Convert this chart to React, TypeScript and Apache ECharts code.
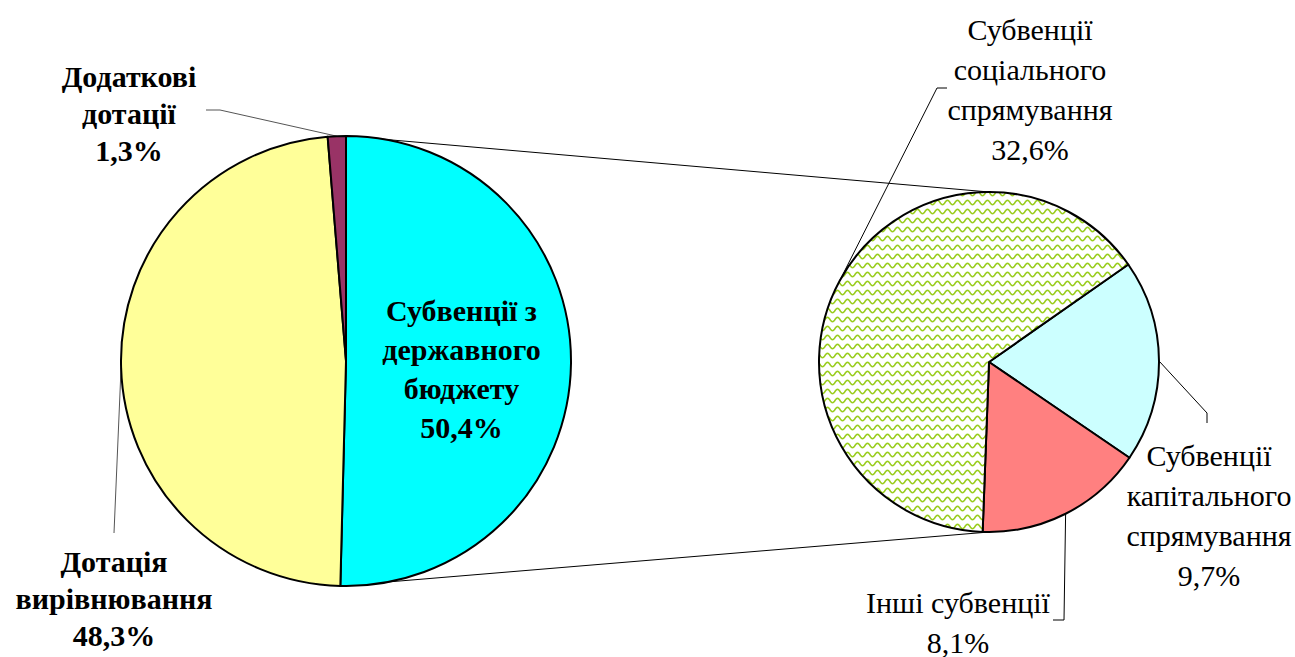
import React, { useEffect, useRef } from 'react';
import * as echarts from 'echarts';

// Main pie (left)
const mainCategories = ['Субвенції з\nдержавного\nбюджету', 'Дотація\nвирівнювання', 'Додаткові\nдотації'];
const mainValues = [50.4, 48.3, 1.3];
const mainColors = ['#00ffff', '#ffff99', '#993366'];

// Secondary pie (right) – breakdown of "Субвенції з державного бюджету"
const subCategories = ['Субвенції\nкапітального\nспрямування', 'Інші субвенції', 'Субвенції\nсоціального\nспрямування'];
const subValues = [9.7, 8.1, 32.6];

const W = 1295;
const H = 657;
const LC = [346, 361];
const LR = 225;
const RC = [989, 362];
const RR = 170;
const RIGHT_START = 35;
const FONT = '"Liberation Serif", "Times New Roman", serif';

function fmt(v: number) {
  return v.toFixed(1).replace('.', ',') + '%';
}

function makeWave() {
  const c = document.createElement('canvas');
  const tw = 10;
  const th = 9;
  c.width = tw;
  c.height = th;
  const ctx = c.getContext('2d')!;
  ctx.fillStyle = '#ffffff';
  ctx.fillRect(0, 0, tw, th);
  ctx.strokeStyle = '#9acd1e';
  ctx.lineWidth = 1.6;
  ctx.beginPath();
  let first = true;
  for (let x = -1; x <= tw + 1; x += 0.5) {
    const y = th / 2 + 2.2 * Math.sin((2 * Math.PI * x) / tw);
    if (first) {
      ctx.moveTo(x, y);
      first = false;
    } else ctx.lineTo(x, y);
  }
  ctx.stroke();
  return c;
}

export default function App() {
  const ref = useRef<HTMLDivElement>(null);
  useEffect(() => {
    if (!ref.current) return;
    const chart = echarts.init(ref.current, null, { renderer: 'svg' });
    const wave = makeWave();
    const subColors: any[] = [
      '#ccffff',
      '#ff8080',
      { image: wave, repeat: 'repeat', imageWidth: 10, imageHeight: 9 },
    ];

    const total = mainValues.reduce((a, b) => a + b, 0);
    const endAngle = 90 - (360 * mainValues[0]) / total;
    const rad = (a: number) => (a * Math.PI) / 180;
    const lTop = [LC[0] + LR * Math.cos(rad(90)), LC[1] - LR * Math.sin(rad(90))];
    const lBot = [LC[0] + LR * Math.cos(rad(endAngle)), LC[1] - LR * Math.sin(rad(endAngle))];
    const rTop = [RC[0], RC[1] - RR];
    const rBot = [RC[0], RC[1] + RR];

    const boldLabel = {
      fontFamily: FONT,
      fontWeight: 'bold',
      fontSize: 30,
      lineHeight: 37,
      color: '#000',
      align: 'center',
    };
    const plainLabel = {
      fontFamily: FONT,
      fontWeight: 'normal',
      fontSize: 30,
      lineHeight: 40,
      color: '#000',
      align: 'center',
    };

    chart.setOption({
      animation: false,
      backgroundColor: '#ffffff',
      graphic: [
        {
          type: 'line',
          z: 0,
          shape: { x1: lTop[0], y1: lTop[1], x2: rTop[0], y2: rTop[1] },
          style: { stroke: '#000', lineWidth: 1 },
        },
        {
          type: 'line',
          z: 0,
          shape: { x1: lBot[0], y1: lBot[1], x2: rBot[0], y2: rBot[1] },
          style: { stroke: '#000', lineWidth: 1 },
        },
      ],
      series: [
        {
          type: 'pie',
          z: 3,
          center: LC,
          radius: LR,
          startAngle: 90,
          clockwise: true,
          avoidLabelOverlap: false,
          emphasis: { disabled: true },
          itemStyle: { borderColor: '#000', borderWidth: 2 },
          label: {
            ...boldLabel,
            position: 'outside',
            formatter: (p: any) => `${p.name}\n${fmt(p.value)}`,
          },
          labelLine: { show: true, length: 10, length2: 10, lineStyle: { color: '#555', width: 1 } },
          labelLayout: (p: any) => {
            const e = p.labelLinePoints ? p.labelLinePoints[0] : null;
            if (p.dataIndex === 0) return { dy: 7 };
            if (p.dataIndex === 1 && e)
              return {
                x: 114,
                y: 598,
                align: 'center',
                verticalAlign: 'middle',
                labelLinePoints: [e, [114, 533], [114, 533]],
              };
            if (p.dataIndex === 2 && e)
              return {
                x: 129,
                y: 113,
                align: 'center',
                verticalAlign: 'middle',
                labelLinePoints: [e, [220, 110], [206, 110]],
              };
            return {};
          },
          data: mainCategories.map((name, i) => ({
            name,
            value: mainValues[i],
            itemStyle: { color: mainColors[i] },
            ...(i === 0
              ? { label: { position: 'inside', lineHeight: 39 }, labelLine: { show: false } }
              : {}),
          })),
        },
        {
          type: 'pie',
          z: 3,
          center: RC,
          radius: RR,
          startAngle: RIGHT_START,
          clockwise: true,
          avoidLabelOverlap: false,
          emphasis: { disabled: true },
          itemStyle: { borderColor: '#000', borderWidth: 2 },
          label: {
            ...plainLabel,
            position: 'outside',
            formatter: (p: any) => `${p.name}\n${fmt(p.value)}`,
          },
          labelLine: { show: true, length: 10, length2: 10, lineStyle: { color: '#000', width: 1 } },
          labelLayout: (p: any) => {
            const e = p.labelLinePoints ? p.labelLinePoints[0] : null;
            if (!e) return {};
            if (p.dataIndex === 0)
              return {
                x: 1209,
                y: 515,
                align: 'center',
                verticalAlign: 'middle',
                labelLinePoints: [e, [1207, 413], [1207, 423]],
              };
            if (p.dataIndex === 1)
              return {
                x: 958,
                y: 622,
                align: 'center',
                verticalAlign: 'middle',
                labelLinePoints: [e, [1064, 620], [1053, 620]],
              };
            return {
              x: 1030,
              y: 89,
              align: 'center',
              verticalAlign: 'middle',
              labelLinePoints: [e, [937, 88], [947, 88]],
            };
          },
          data: subCategories.map((name, i) => ({
            name,
            value: subValues[i],
            itemStyle: { color: subColors[i] },
          })),
        },
      ],
    });
    return () => chart.dispose();
  }, []);
  return (
    <div
      ref={ref}
      style={{ position: 'absolute', left: 0, top: 0, width: W, height: H, background: '#fff' }}
    />
  );
}
